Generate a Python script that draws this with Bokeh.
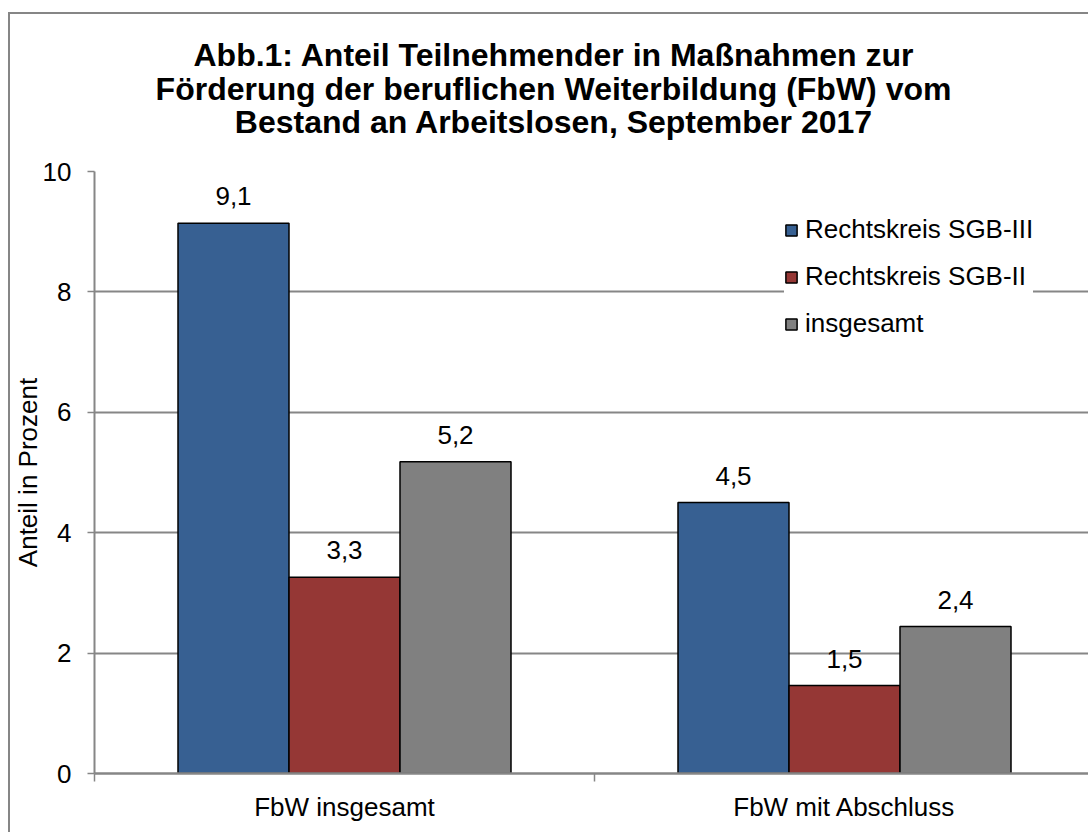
from bokeh.plotting import figure
from bokeh.models import (ColumnDataSource, Range1d, FixedTicker, Legend, LegendItem, Div)
from bokeh.layouts import column
from bokeh.core.properties import value
from bokeh.transform import dodge
from bokeh.embed import file_html
from bokeh.resources import INLINE

categories = ["FbW insgesamt", "FbW mit Abschluss"]
series_names = ["Rechtskreis SGB-III", "Rechtskreis SGB-II", "insgesamt"]
sgb3 = [9.14, 4.50]
sgb2 = [3.26, 1.46]
total = [5.18, 2.44]
series_values = [sgb3, sgb2, total]
colors = ["#376092", "#953735", "#808080"]
y_ticks = [0, 2, 4, 6, 8, 10]
title_lines = ["Abb.1: Anteil Teilnehmender in Maßnahmen zur",
               "Förderung der beruflichen Weiterbildung (FbW) vom",
               "Bestand an Arbeitslosen, September 2017"]

FONT = "Liberation Sans"
W = 1088
TITLE_H = 150
H = 832 - TITLE_H

p = figure(width=W, height=H, output_backend="svg", toolbar_location=None,
           x_range=Range1d(0, 1.988), y_range=Range1d(0, 10),
           min_border_left=94, min_border_right=0, min_border_top=21,
           min_border_bottom=59, margin=0)
p.title = None
p.outline_line_color = None
p.background_fill_color = "white"
p.border_fill_color = "white"

centers = [i + 0.5 for i in range(len(categories))]
bar_w = 0.222
offsets = [-bar_w, 0.0, bar_w]

renderers = []
for name, vals, col, off in zip(series_names, series_values, colors, offsets):
    src = ColumnDataSource(dict(x=centers, top=vals,
                                lbl=[f"{v:.1f}".replace(".", ",") for v in vals]))
    r = p.vbar(x=dodge("x", off, range=p.x_range), top="top", bottom=0, width=bar_w,
               source=src, fill_color=col, line_color="black", line_width=1.5)
    p.text(x=dodge("x", off, range=p.x_range), y="top", text="lbl", source=src,
           text_align="center", text_baseline="alphabetic", y_offset=-27,
           text_font=value(FONT), text_font_size="26px", text_color="black")
    renderers.append(r)

# axes
p.xaxis.ticker = FixedTicker(ticks=centers, minor_ticks=[0, 1, 2])
p.xaxis.major_label_overrides = {c: n for c, n in zip(centers, categories)}
p.xaxis.major_tick_out = 0
p.xaxis.major_tick_in = 0
p.xaxis.minor_tick_out = 8
p.xaxis.minor_tick_in = 0
p.xaxis.minor_tick_line_color = "#868686"
p.xaxis.minor_tick_line_width = 1.5
p.xaxis.axis_line_color = "#868686"
p.xaxis.axis_line_width = 2.5
p.xaxis.major_label_standoff = 10
p.xaxis.major_label_text_font = FONT
p.xaxis.major_label_text_font_size = "26px"
p.xaxis.major_label_text_color = "black"

p.yaxis.ticker = FixedTicker(ticks=y_ticks)
p.yaxis.minor_tick_line_color = None
p.yaxis.major_tick_out = 7
p.yaxis.major_tick_in = 0
p.yaxis.major_tick_line_color = "#868686"
p.yaxis.major_tick_line_width = 1.5
p.yaxis.axis_line_color = "#868686"
p.yaxis.axis_line_width = 2
p.yaxis.major_label_standoff = 16
p.yaxis.major_label_text_font = FONT
p.yaxis.major_label_text_font_size = "26px"
p.yaxis.major_label_text_color = "black"
p.yaxis.axis_label = "Anteil in Prozent"
p.yaxis.axis_label_text_font = FONT
p.yaxis.axis_label_text_font_size = "26px"
p.yaxis.axis_label_text_font_style = "normal"
p.yaxis.axis_label_text_color = "black"
p.yaxis.axis_label_standoff = -3

p.xgrid.grid_line_color = None
p.ygrid.ticker = FixedTicker(ticks=y_ticks[1:])
p.ygrid.grid_line_color = "#868686"
p.ygrid.grid_line_width = 2

legend = Legend(items=[LegendItem(label=n, renderers=[r]) for n, r in zip(series_names, renderers)],
                location=(690, 434), background_fill_color="white", background_fill_alpha=1,
                border_line_color=None, glyph_width=14, glyph_height=14, label_standoff=7,
                padding=13, spacing=16, margin=0,
                label_text_font=FONT, label_text_font_size="26px", label_text_color="black")
p.add_layout(legend, "center")

title_html = (
    '<div style="position:absolute; left:8px; top:12px; width:1080px; height:820px; '
    'box-sizing:border-box; border-left:2px solid #868686; border-top:2px solid #868686; '
    'z-index:10; pointer-events:none;"></div>'
    '<div style="margin:0; padding:39px 0 0 19px; box-sizing:border-box; width:1088px; '
    'text-align:center; '
    f'font-family:\'{FONT}\'; font-weight:bold; font-size:32px; line-height:33.5px; color:black;">'
    + "<br>".join(title_lines) + "</div>"
)
title_div = Div(text=title_html, width=W, height=TITLE_H, margin=0,
                styles={"overflow": "visible", "position": "relative", "z-index": "10"})

layout = column(title_div, p, spacing=0, margin=0)
open("out.html", "w").write(file_html(layout, INLINE))
